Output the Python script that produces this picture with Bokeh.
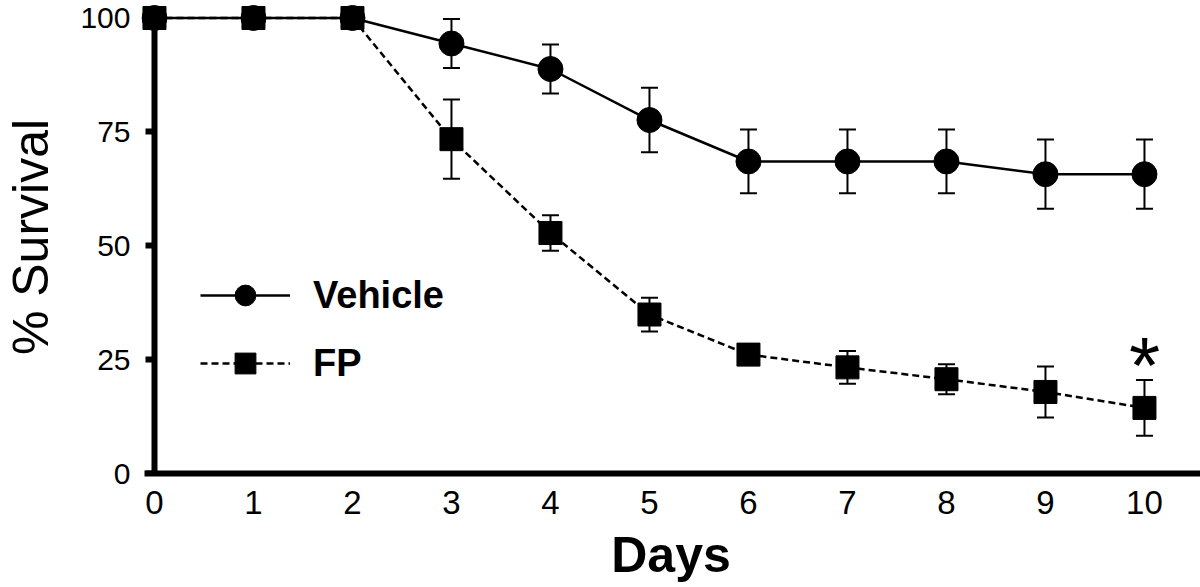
from bokeh.plotting import figure
from bokeh.models import (Range1d, FixedTicker, Whisker, ColumnDataSource, Legend,
                          LegendItem, TeeHead, LinearAxis)
from bokeh.embed import file_html
from bokeh.resources import INLINE
from bokeh.core.properties import value

# ---------------- data ----------------
days = [0, 1, 2, 3, 4, 5, 6, 7, 8, 9, 10]
vehicle = [100, 100, 100, 94.4, 88.8, 77.6, 68.5, 68.5, 68.5, 65.7, 65.7]
vehicle_err = [0, 0, 0, 5.4, 5.4, 7.1, 7.0, 7.0, 7.0, 7.6, 7.6]
fp = [100, 100, 100, 73.4, 52.8, 34.9, 26.1, 23.3, 20.7, 17.9, 14.4]
fp_err = [0, 0, 0, 8.7, 3.9, 3.7, 1.0, 3.6, 3.3, 5.6, 6.1]
x_ticks = days
y_ticks = [0, 25, 50, 75, 100]
series_names = ["Vehicle", "FP"]
x_label = "Days"
y_label = "% Survival"
sig_day = 10
sig_mark = "*"

FONT = "Liberation Sans"

p = figure(width=1200, height=587, output_backend="svg", toolbar_location=None,
           x_range=Range1d(-0.131, 10.566), y_range=Range1d(0, 103.84),
           min_border_left=141, min_border_right=0, min_border_top=0,
           min_border_bottom=114)
p.outline_line_color = None
p.grid.visible = False
p.background_fill_color = "white"

# error bars
def add_err(vals, errs):
    src = ColumnDataSource(dict(x=days,
                                upper=[v + e for v, e in zip(vals, errs)],
                                lower=[v - e for v, e in zip(vals, errs)]))
    w = Whisker(source=src, base="x", upper="upper", lower="lower",
                line_color="black", line_width=2,
                upper_head=TeeHead(size=17, line_width=2, line_color="black"),
                lower_head=TeeHead(size=17, line_width=2, line_color="black"))
    p.add_layout(w)

add_err(vehicle, vehicle_err)
add_err(fp, fp_err)

veh_line = p.line(days, vehicle, line_color="black", line_width=2.5)
veh_pts = p.scatter(days, vehicle, marker="circle", size=25,
                    fill_color="black", line_color="black")
fp_line = p.line(days, fp, line_color="black", line_width=2.5, line_dash="7 4")
fp_pts = p.scatter(days, fp, marker="square", size=23,
                   fill_color="black", line_color="black")

# significance mark
p.text(x=[sig_day], y=[fp[-1] + fp_err[-1]], text=[sig_mark], y_offset=-15,
       text_font=value(FONT), text_font_size="80px", text_align="center",
       text_baseline="alphabetic", text_color="black")

# x axis
xa = p.xaxis[0]
xa.ticker = FixedTicker(ticks=x_ticks)
xa.bounds = (-0.1, 10.566)
xa.axis_line_width = 6
xa.axis_line_color = "black"
xa.minor_tick_line_color = None
xa.major_tick_out = 0
xa.major_tick_in = 0
xa.major_tick_line_color = None
xa.major_label_text_font = FONT
xa.major_label_text_color = "black"
xa.major_label_text_font_size = "33px"
xa.major_label_standoff = 17
xa.axis_label = x_label
xa.axis_label_text_font = FONT
xa.axis_label_text_font_style = "bold"
xa.axis_label_text_font_size = "50px"
xa.axis_label_text_color = "black"
xa.axis_label_standoff = 10

# y axis: labels at frame edge
ya = p.yaxis[0]
ya.ticker = FixedTicker(ticks=y_ticks)
ya.axis_line_color = None
ya.major_tick_line_color = None
ya.minor_tick_line_color = None
ya.major_tick_out = 0
ya.major_tick_in = 0
ya.major_label_text_font = FONT
ya.major_label_text_color = "black"
ya.major_label_text_font_size = "30px"
ya.major_label_standoff = 11
ya.axis_label = y_label
ya.axis_label_text_font = FONT
ya.axis_label_text_font_style = "normal"
ya.axis_label_text_font_size = "50px"
ya.axis_label_text_color = "black"
ya.axis_label_standoff = 18

# y axis line and ticks at x = 0
ya2 = LinearAxis(fixed_location=0, ticker=FixedTicker(ticks=y_ticks), bounds=(0, 100),
                 axis_line_width=6, axis_line_color="black",
                 major_tick_out=9, major_tick_in=0, major_tick_line_width=6,
                 major_tick_line_color="black", minor_tick_line_color=None,
                 major_label_overrides={t: "" for t in y_ticks},
                 major_label_text_alpha=0, major_label_standoff=0)
p.add_layout(ya2, "left")

legend = Legend(items=[LegendItem(label=series_names[0], renderers=[veh_line, veh_pts]),
                       LegendItem(label=series_names[1], renderers=[fp_line, fp_pts])],
                location=(59, 84), glyph_width=90, glyph_height=52, spacing=16,
                label_standoff=23, padding=0, margin=0,
                label_text_font=FONT, label_text_font_size="38px",
                label_text_font_style="bold", label_text_color="black",
                border_line_alpha=0, background_fill_alpha=0)
p.add_layout(legend)

open("out.html", "w").write(file_html(p, INLINE))
